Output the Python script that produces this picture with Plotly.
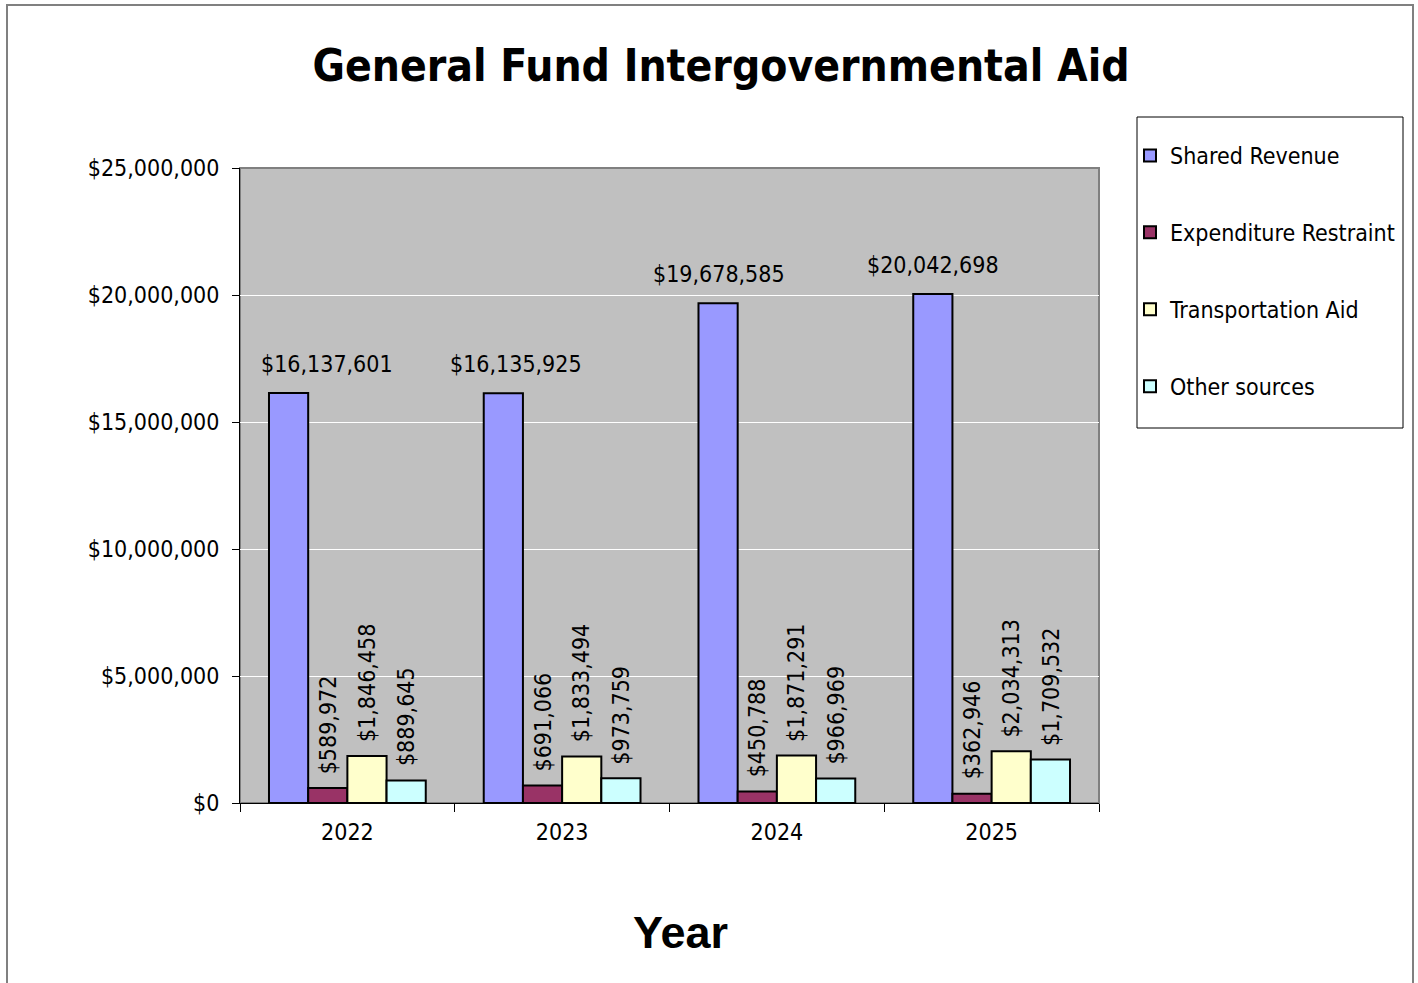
import plotly.graph_objects as go

years = ["2022", "2023", "2024", "2025"]
shared_revenue = [16137601, 16135925, 19678585, 20042698]
expenditure_restraint = [589972, 691066, 450788, 362946]
transportation_aid = [1846458, 1833494, 1871291, 2034313]
other_sources = [889645, 973759, 966969, 1709532]

series_names = ["Shared Revenue", "Expenditure Restraint", "Transportation Aid", "Other sources"]
series_colors = ["#9999FF", "#993366", "#FFFFCC", "#CCFFFF"]
series_values = [shared_revenue, expenditure_restraint, transportation_aid, other_sources]

# Horizontal offsets (px) for the Shared Revenue labels relative to each year's group centre
sr_label_shift = [-20, -46, -58, -59]

FONT = "DejaVu Sans Condensed"
W, H = 1418, 983
L, R, T, B = 240, 319, 168, 180
pw, ph = W - L - R, H - T - B
BARGAP = 0.27


def px_x(px):
    return (px - L) / pw


def px_y(py):
    return (H - B - py) / ph


fig = go.Figure()
for name, color, vals in zip(series_names, series_colors, series_values):
    fig.add_trace(go.Bar(
        x=years, y=vals, name=name,
        marker=dict(color=color, line=dict(color="black", width=2)),
        legendgroup=name,
    ))

# value labels: horizontal over Shared Revenue, vertical over the smaller series
bar_px = pw / len(years) * (1 - BARGAP) / len(series_names)
label_font = dict(family=FONT, size=23, color="black")
for idx, v in enumerate(shared_revenue):
    fig.add_annotation(
        x=idx, y=v, text=f"${v:,}", showarrow=False, xshift=sr_label_shift[idx], yshift=14,
        yanchor="bottom", font=label_font,
    )
for s in range(1, len(series_names)):
    offset = (s - 1.5) * bar_px
    for idx, v in enumerate(series_values[s]):
        fig.add_annotation(
            x=idx, y=v, text=f"${v:,}", showarrow=False, textangle=-90,
            xshift=offset, yshift=12, xanchor="center", yanchor="bottom", font=label_font,
        )

fig.add_annotation(
    xref="paper", yref="paper", x=px_x(680), y=px_y(932), text="<b>Year</b>",
    showarrow=False, yanchor="middle",
    font=dict(family="Liberation Sans", size=45, color="black"),
)

# outer frame
fig.add_shape(type="rect", xref="paper", yref="paper",
              x0=px_x(7), x1=px_x(1413), y0=px_y(1000), y1=px_y(5),
              line=dict(color="#808080", width=2), layer="below")
# plot area frame
fig.add_shape(type="rect", xref="paper", yref="paper",
              x0=0, x1=1, y0=0, y1=1,
              line=dict(color="#808080", width=2), layer="below")
# legend frame
fig.add_shape(type="rect", xref="paper", yref="paper",
              x0=px_x(1137), x1=px_x(1403), y0=px_y(428), y1=px_y(117),
              line=dict(color="black", width=1))

fig.update_layout(
    width=W, height=H,
    margin=dict(l=L, r=R, t=T, b=B, pad=0),
    paper_bgcolor="white", plot_bgcolor="#C0C0C0",
    barmode="group", bargap=BARGAP, bargroupgap=0,
    title=dict(text="<b>General Fund Intergovernmental Aid</b>", x=721 / W, xref="container",
               xanchor="center", y=1 - 66 / H, yanchor="middle",
               font=dict(family=FONT, size=44, color="black")),
    legend=dict(x=px_x(1130), y=px_y(134), xanchor="left", yanchor="top",
                bgcolor="rgba(0,0,0,0)", borderwidth=0, traceorder="grouped",
                tracegroupgap=44, font=dict(family=FONT, size=23, color="black"),
                itemwidth=30),
    showlegend=True,
    font=dict(family=FONT, color="black"),
)
fig.update_yaxes(range=[0, 25000000], dtick=5000000, tickprefix="$", tickformat=",d",
                 showgrid=True, gridcolor="white", gridwidth=1,
                 showline=True, linecolor="black", linewidth=1,
                 ticks="outside", ticklen=7, tickcolor="black", ticklabelstandoff=8,
                 tickfont=dict(family=FONT, size=23, color="black"), zeroline=False)
fig.update_xaxes(type="category", range=[-0.5, 3.5], showline=True, linecolor="black", linewidth=1,
                 ticks="outside", ticklen=8, tickcolor="black", tickson="boundaries",
                 tickangle=0, ticklabelstandoff=8,
                 tickfont=dict(family=FONT, size=23, color="black"))

fig.write_html("out.html")
